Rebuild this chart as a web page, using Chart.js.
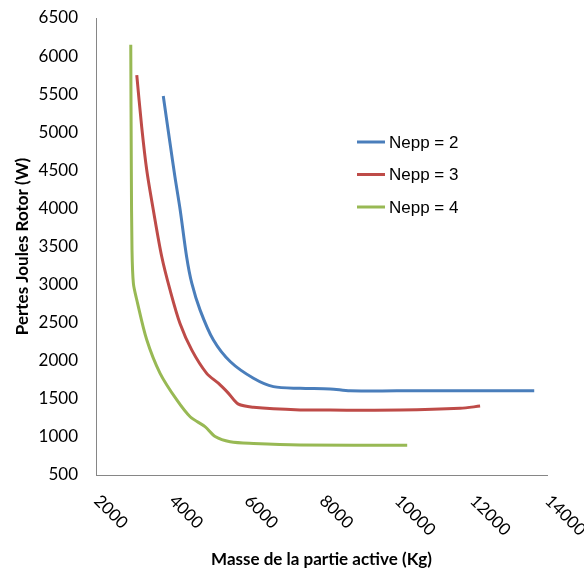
<!DOCTYPE html>
<html>
<head>
<meta charset="utf-8">
<script src="https://cdn.jsdelivr.net/npm/chart.js@4.4.0/dist/chart.umd.min.js"></script>
<style>
  html, body { margin: 0; padding: 0; background: #fff; }
  #wrap { width: 584px; height: 570px; }
</style>
</head>
<body>
<div id="wrap"><canvas id="chart"></canvas></div>
<script>
// Données
const seriesLabels = ['Nepp = 2', 'Nepp = 3', 'Nepp = 4'];
const seriesColors = ['#4A7EBB', '#BE4B48', '#98B954'];

const masse2 = [3790, 3970, 4100, 4240, 4410, 4550, 4770, 5120, 5570, 6190, 6720, 7430, 8230, 8760, 10000, 12000, 13660];
const pertes2 = [5475, 4855, 4415, 3980, 3370, 3015, 2665, 2275, 1990, 1770, 1660, 1638, 1630, 1605, 1605, 1605, 1605];

const masse3 = [3085, 3215, 3350, 3525, 3750, 3970, 4235, 4550, 4945, 5255, 5520, 5790, 6190, 7430, 8230, 10100, 11690, 12220];
const pertes3 = [5750, 5075, 4505, 3980, 3365, 2930, 2490, 2140, 1835, 1705, 1575, 1430, 1390, 1355, 1352, 1352, 1375, 1405];

const masse4 = [2925, 2940, 2958, 2995, 3085, 3350, 3705, 4150, 4505, 4900, 5170, 5570, 6190, 7430, 10280];
const pertes4 = [6150, 4500, 3450, 3015, 2800, 2275, 1835, 1485, 1265, 1135, 1005, 937, 915, 895, 892];

const xTicks = [2000, 4000, 6000, 8000, 10000, 12000, 14000];

const seriesX = [masse2, masse3, masse4];
const seriesY = [pertes2, pertes3, pertes4];

function toPoints(xs, ys) {
    return xs.map((x, i) => ({ x: x, y: ys[i] }));
}

// Étiquettes de l'axe X tournées à 45° (sens horaire) + légende interne
const customDraw = {
    id: 'customDraw',
    afterDraw(chart) {
        const ctx = chart.ctx;
        const xScale = chart.scales.x;
        const bottom = chart.chartArea.bottom;
        ctx.save();
        ctx.fillStyle = '#000';
        ctx.font = '17px Lato';
        ctx.textAlign = 'left';
        ctx.textBaseline = 'middle';
        xTicks.forEach(v => {
            const px = xScale.getPixelForValue(v);
            ctx.save();
            ctx.translate(px + 1, bottom + 23);
            ctx.rotate(Math.PI / 4);
            ctx.fillText(String(v), 0, 0);
            ctx.restore();
        });

        // légende
        ctx.font = '17px "Liberation Sans"';
        seriesLabels.forEach((label, i) => {
            const y = 142 + i * 32.5;
            ctx.strokeStyle = seriesColors[i];
            ctx.lineWidth = 3;
            ctx.beginPath();
            ctx.moveTo(357, y);
            ctx.lineTo(385, y);
            ctx.stroke();
            ctx.fillStyle = '#000';
            ctx.fillText(label, 389, y + 1);
        });
        ctx.restore();
    }
};

const datasets = seriesLabels.map((label, i) => ({
    label: label,
    data: toPoints(seriesX[i], seriesY[i]),
    borderColor: seriesColors[i],
    backgroundColor: seriesColors[i],
    borderWidth: 3,
    pointRadius: 0,
    fill: false,
    tension: 0.3
}));

new Chart(document.getElementById('chart'), {
    type: 'line',
    data: { datasets: datasets },
    options: {
        responsive: true,
        maintainAspectRatio: false,
        animation: false,
        layout: { padding: { top: 18, right: 37, left: 0, bottom: 0 } },
        plugins: {
            legend: { display: false },
            tooltip: { enabled: false }
        },
        scales: {
            x: {
                type: 'linear',
                min: 2000,
                max: 14000,
                grid: { display: false, drawTicks: false },
                border: { color: '#868686', width: 1 },
                ticks: { display: false, stepSize: 2000 },
                title: {
                    display: true,
                    text: 'Masse de la partie active (Kg)',
                    color: '#000',
                    font: { family: 'Lato', size: 17, weight: 'bold' },
                    padding: { top: 0, bottom: 0 }
                },
                afterFit(scale) { scale.height = 95; }
            },
            y: {
                min: 500,
                max: 6500,
                grid: { display: false, drawTicks: false },
                border: { color: '#868686', width: 1 },
                ticks: {
                    stepSize: 500,
                    color: '#000',
                    padding: 18,
                    font: { family: 'Lato', size: 17 },
                    callback: function(value) {
                        return String(value);
                    }
                },
                title: {
                    display: true,
                    text: 'Pertes Joules Rotor (W)',
                    color: '#000',
                    font: { family: 'Lato', size: 17, weight: 'bold' },
                    padding: { top: 12, bottom: 0 }
                },
                afterFit(scale) {
                    scale.width = 96;
                    scale.paddingTop = 0;
                    scale.paddingBottom = 0;
                }
            }
        }
    },
    plugins: [customDraw]
});
</script>
</body>
</html>
